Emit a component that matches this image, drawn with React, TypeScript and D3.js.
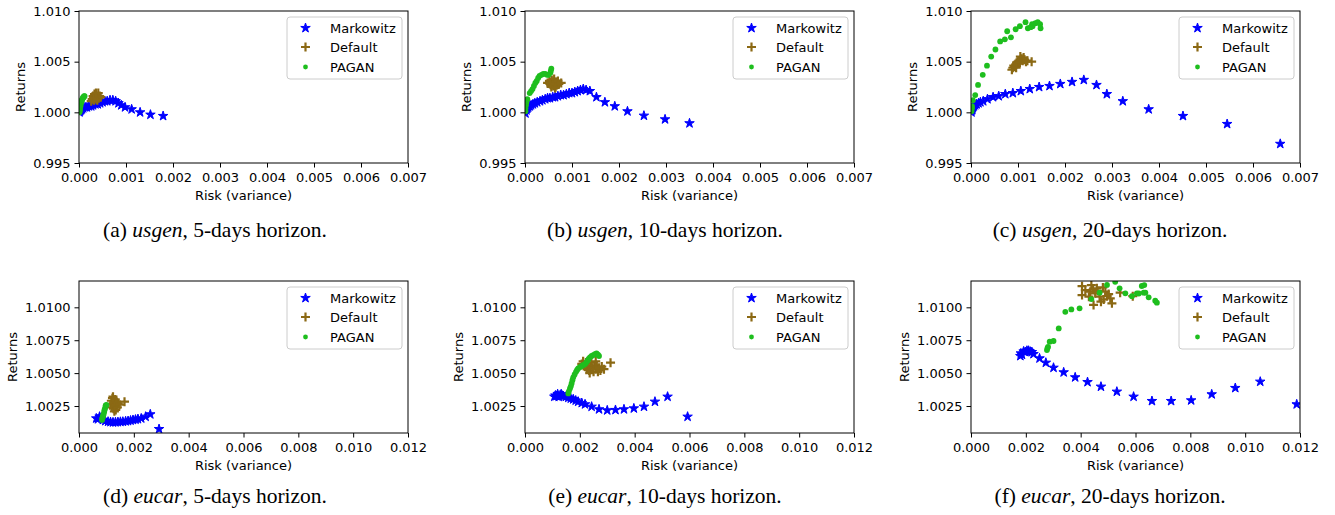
import React, { useEffect, useRef } from 'react';
import * as d3 from 'd3';

type Pt = [number, number];

// ---- usgen, 5 days
const usgen5Markowitz: Pt[] = [
  [0.00001, 1.0000], [0.00002, 1.0001], [0.00004, 1.0002], [0.00006, 1.0003], [0.00009, 1.0004],
  [0.00013, 1.0005], [0.00017, 1.0005], [0.00021, 1.0006], [0.00026, 1.0006], [0.0003, 1.0007],
  [0.00035, 1.0008], [0.0004, 1.0008], [0.00045, 1.0009], [0.0005, 1.0010], [0.00055, 1.0011],
  [0.0006, 1.0011], [0.00066, 1.0012], [0.00072, 1.0012], [0.00078, 1.0011], [0.00084, 1.0009],
  [0.0009, 1.0007], [0.00098, 1.0005], [0.00112, 1.0003], [0.0013, 1.0000], [0.00152, 0.99977],
  [0.00179, 0.99964],
];
const usgen5Default: Pt[] = [
  [0.00028, 1.0013], [0.0003, 1.0016], [0.00032, 1.0012], [0.00033, 1.0018], [0.00034, 1.0015],
  [0.00035, 1.0014], [0.00036, 1.0017], [0.00037, 1.0013], [0.00038, 1.0016], [0.0004, 1.0015],
  [0.00041, 1.0019], [0.00042, 1.0014], [0.00044, 1.0016], [0.00046, 1.0015], [0.00031, 1.0014],
  [0.00039, 1.0012], [0.00036, 1.0019], [0.00026, 1.0011],
];
const usgen5Pagan: Pt[] = [
  [0.00001, 1.0000], [0.00002, 1.0002], [0.00002, 1.0004], [0.00003, 1.0006], [0.00003, 1.0007],
  [0.00004, 1.0009], [0.00005, 1.0010], [0.00005, 1.0011], [0.00006, 1.0012], [0.00007, 1.0013],
  [0.00008, 1.0014], [0.00009, 1.0015], [0.0001, 1.0015], [0.00011, 1.0016], [0.00012, 1.0016],
];

// ---- usgen, 10 days
const usgen10Markowitz: Pt[] = [
  [0.00001, 0.9999], [0.00003, 1.0002], [0.00005, 1.0004], [0.00007, 1.0005], [0.0001, 1.0006],
  [0.00013, 1.0007], [0.00017, 1.0008], [0.00021, 1.0009], [0.00026, 1.0010], [0.00032, 1.0011],
  [0.00037, 1.0012], [0.00043, 1.0013], [0.00048, 1.0014], [0.00053, 1.0014], [0.00059, 1.0015],
  [0.00064, 1.0015], [0.0007, 1.0016], [0.00076, 1.0017], [0.00082, 1.0017], [0.00088, 1.0018],
  [0.00094, 1.0019], [0.001, 1.0019], [0.00106, 1.0020], [0.00112, 1.0021], [0.00118, 1.0022],
  [0.00124, 1.0023], [0.0013, 1.0022], [0.00138, 1.0021], [0.00152, 1.0015], [0.0017, 1.0010],
  [0.00191, 1.0006], [0.00218, 1.0001], [0.00253, 0.99967], [0.00298, 0.99931], [0.0035, 0.99892],
];
const usgen10Default: Pt[] = [
  [0.00048, 1.0029], [0.00052, 1.0031], [0.00055, 1.0027], [0.00057, 1.0032], [0.00058, 1.0029],
  [0.0006, 1.0026], [0.0006, 1.0030], [0.00062, 1.0033], [0.00063, 1.0028], [0.00065, 1.0025],
  [0.00066, 1.0030], [0.00068, 1.0027], [0.0007, 1.0031], [0.00072, 1.0028], [0.00056, 1.0025],
  [0.00064, 1.0024], [0.00077, 1.0029], [0.00053, 1.0028],
];
const usgen10Pagan: Pt[] = [
  [0.00001, 1.0001], [0.00001, 1.0004], [0.00002, 1.0007], [0.00003, 1.0010], [0.00005, 1.0013],
  [0.0001, 1.0019], [0.00013, 1.0021], [0.00016, 1.0023], [0.00019, 1.0026], [0.00022, 1.0029],
  [0.00025, 1.0031], [0.00028, 1.0034], [0.00031, 1.0036], [0.00035, 1.0037], [0.00039, 1.0038],
  [0.00043, 1.0038], [0.00047, 1.0037], [0.0005, 1.0037], [0.00054, 1.0039], [0.00055, 1.0041],
  [0.00056, 1.0043],
];

// ---- usgen, 20 days
const usgen20Markowitz: Pt[] = [
  [0.00001, 1.0000], [0.00002, 1.0002], [0.00003, 1.0003], [0.00004, 1.0005], [0.00006, 1.0006],
  [0.00009, 1.0007], [0.00012, 1.0008], [0.00016, 1.0009], [0.0002, 1.0010], [0.00026, 1.0011],
  [0.00035, 1.0013], [0.00047, 1.0015], [0.00059, 1.0016], [0.00073, 1.0018], [0.00089, 1.0019],
  [0.00106, 1.0021], [0.00125, 1.0023], [0.00145, 1.0025], [0.00167, 1.0026], [0.0019, 1.0028],
  [0.00215, 1.0030], [0.0024, 1.0032], [0.00267, 1.0027], [0.00289, 1.0018], [0.00323, 1.0011],
  [0.00378, 1.0003], [0.00451, 0.99964], [0.00545, 0.99885], [0.00658, 0.99689],
];
const usgen20Default: Pt[] = [
  [0.00087, 1.0042], [0.00089, 1.0044], [0.00091, 1.0046], [0.00093, 1.0045], [0.00095, 1.0047],
  [0.00097, 1.0049], [0.00099, 1.0048], [0.001, 1.0050], [0.00102, 1.0051], [0.00104, 1.0049],
  [0.00106, 1.0052], [0.00108, 1.0053], [0.0011, 1.0051], [0.00112, 1.0054], [0.00114, 1.0052],
  [0.00117, 1.0050], [0.0012, 1.0051], [0.00129, 1.0050], [0.00096, 1.0044], [0.00105, 1.0055],
];
const usgen20Pagan: Pt[] = [
  [0.00001, 1.0001], [0.00002, 1.0004], [0.00002, 1.0006], [0.00004, 1.0012], [0.00009, 1.0017],
  [0.00015, 1.0027], [0.00025, 1.0037], [0.00034, 1.0046], [0.00043, 1.0055], [0.00052, 1.0062],
  [0.00062, 1.0070], [0.00072, 1.0072], [0.00077, 1.0080], [0.00085, 1.0074], [0.00095, 1.0082],
  [0.00104, 1.0085], [0.00116, 1.0089], [0.00121, 1.0083], [0.0013, 1.0087], [0.00131, 1.0085],
  [0.00137, 1.0088], [0.00142, 1.0089], [0.00147, 1.0087], [0.00148, 1.0083], [0.00127, 1.0084],
];

// ---- eucar, 5 days
const eucar5Markowitz: Pt[] = [
  [0.00063, 1.00156], [0.00069, 1.0015], [0.00075, 1.00169], [0.00081, 1.0016], [0.00087, 1.00144],
  [0.00096, 1.00136], [0.00106, 1.00131], [0.00115, 1.00128], [0.00124, 1.00126], [0.00133, 1.00127],
  [0.00142, 1.00128], [0.00151, 1.0013], [0.0016, 1.00131], [0.0017, 1.00134], [0.00179, 1.00136],
  [0.00188, 1.0014], [0.00197, 1.00144], [0.00206, 1.00147], [0.00215, 1.00151], [0.00227, 1.00156],
  [0.00243, 1.00169], [0.0026, 1.00187], [0.00292, 1.00075],
];
const eucar5Default: Pt[] = [
  [0.00115, 1.0026], [0.00118, 1.0029], [0.0012, 1.0024], [0.00122, 1.0031], [0.00124, 1.0027],
  [0.00126, 1.0023], [0.00128, 1.0028], [0.0013, 1.0025], [0.00132, 1.003], [0.00134, 1.0022],
  [0.00136, 1.0026], [0.00138, 1.0028], [0.0014, 1.0024], [0.00143, 1.0027], [0.00148, 1.0026],
  [0.00166, 1.00283], [0.00124, 1.00321], [0.00129, 1.0021],
];
const eucar5Pagan: Pt[] = [
  [0.00084, 1.00144], [0.00085, 1.00156], [0.00086, 1.0016], [0.00087, 1.00169], [0.00088, 1.0018],
  [0.0009, 1.00189], [0.00092, 1.00207], [0.00093, 1.0022], [0.00095, 1.00232], [0.00097, 1.0025],
  [0.00098, 1.00255], [0.001, 1.00258],
];

// ---- eucar, 10 days
const eucar10Markowitz: Pt[] = [
  [0.00107, 1.00321], [0.00111, 1.0033], [0.00115, 1.00326], [0.00119, 1.0034], [0.00123, 1.0032],
  [0.00128, 1.00331], [0.00132, 1.0034], [0.00136, 1.00328], [0.0014, 1.00326], [0.00149, 1.0032],
  [0.00158, 1.00313], [0.00167, 1.00307], [0.00176, 1.00301], [0.00185, 1.00292], [0.00194, 1.00283],
  [0.00207, 1.00273], [0.00219, 1.00263], [0.00243, 1.00245], [0.0027, 1.00225], [0.003, 1.00217],
  [0.0033, 1.0022], [0.00361, 1.00225], [0.00397, 1.00232], [0.00434, 1.00245], [0.00474, 1.00283],
  [0.0052, 1.00321], [0.00593, 1.00169],
];
const eucar10Default: Pt[] = [
  [0.00207, 1.0057], [0.00212, 1.0059], [0.00218, 1.0055], [0.00222, 1.0058], [0.00226, 1.0053],
  [0.0023, 1.0056], [0.00234, 1.0052], [0.00238, 1.0055], [0.00242, 1.0058], [0.00246, 1.0054],
  [0.0025, 1.0051], [0.00254, 1.0056], [0.00258, 1.0053], [0.00262, 1.0055], [0.00266, 1.0051],
  [0.0027, 1.0054], [0.00275, 1.0052], [0.0028, 1.0055], [0.00288, 1.0053], [0.00312, 1.00579],
  [0.00236, 1.005], [0.00258, 1.0059],
];
const eucar10Pagan: Pt[] = [
  [0.00158, 1.00346], [0.0016, 1.00362], [0.00164, 1.00384], [0.00167, 1.004], [0.0017, 1.00422],
  [0.00173, 1.00446], [0.00176, 1.00468], [0.00181, 1.0049], [0.00186, 1.0051], [0.0019, 1.00524],
  [0.00194, 1.00536], [0.002, 1.00545], [0.00207, 1.00554], [0.00213, 1.00562], [0.00219, 1.00569],
  [0.00224, 1.00582], [0.00228, 1.00594], [0.00232, 1.00608], [0.00237, 1.0062], [0.00243, 1.0063],
  [0.00249, 1.00637], [0.00255, 1.00645], [0.00261, 1.0065], [0.00266, 1.0064], [0.0027, 1.0063],
];

// ---- eucar, 20 days
const eucar20Markowitz: Pt[] = [
  [0.0018, 1.0063], [0.00182, 1.0065], [0.00186, 1.0064], [0.00192, 1.00665], [0.00198, 1.0066],
  [0.00204, 1.0067], [0.0021, 1.0067], [0.00216, 1.00663], [0.00222, 1.0066], [0.00228, 1.00645],
  [0.0025, 1.00612], [0.00273, 1.00579], [0.00301, 1.00541], [0.00338, 1.00506], [0.0038, 1.00468],
  [0.00425, 1.00432], [0.00474, 1.00397], [0.00532, 1.00359], [0.00593, 1.00321], [0.0066, 1.00288],
  [0.0073, 1.00288], [0.00803, 1.00293], [0.00878, 1.00339], [0.00964, 1.00387], [0.01055, 1.00435],
  [0.01188, 1.00263],
];
const eucar20Default: Pt[] = [
  [0.00405, 1.01161], [0.00439, 1.01169], [0.00459, 1.01144], [0.00481, 1.01151], [0.00435, 1.01119],
  [0.00453, 1.01106], [0.00469, 1.01081], [0.00447, 1.01018], [0.00405, 1.01093], [0.0043, 1.01081],
  [0.00484, 1.0106], [0.00496, 1.01086], [0.00508, 1.01068], [0.00514, 1.0103], [0.0049, 1.01119],
  [0.00544, 1.01111], [0.0059, 1.01085], [0.00474, 1.01043], [0.00417, 1.01131], [0.00502, 1.01101],
  [0.00445, 1.01135], [0.00462, 1.01125],
];
const eucar20Pagan: Pt[] = [
  [0.00277, 1.00675], [0.00279, 1.0069], [0.00281, 1.007], [0.00287, 1.00739], [0.00301, 1.00744],
  [0.0032, 1.0084], [0.00344, 1.00966], [0.00366, 1.00984], [0.00396, 1.00992], [0.00439, 1.01063],
  [0.00469, 1.01111], [0.00496, 1.0117], [0.00526, 1.01194], [0.00542, 1.01144], [0.00563, 1.01106],
  [0.00587, 1.01085], [0.00605, 1.01106], [0.00623, 1.01162], [0.00632, 1.01169], [0.0063, 1.01111],
  [0.00636, 1.01111], [0.00648, 1.01076], [0.00672, 1.0105], [0.00678, 1.01035], [0.00612, 1.01105],
];

const seriesNames = ['Markowitz', 'Default', 'PAGAN'];
const seriesColors = ['#0000ff', '#8b6914', '#1ebe1e'];

const topXTicks = [0, 0.001, 0.002, 0.003, 0.004, 0.005, 0.006, 0.007];
const topYTicks = [0.995, 1.0, 1.005, 1.01];
const bottomXTicks = [0, 0.002, 0.004, 0.006, 0.008, 0.01, 0.012];
const bottomYTicks = [1.0025, 1.005, 1.0075, 1.01];

const captionLetters = ['a', 'b', 'c', 'd', 'e', 'f'];
const captionDatasets = ['usgen', 'usgen', 'usgen', 'eucar', 'eucar', 'eucar'];
const captionHorizons = ['5', '10', '20', '5', '10', '20'];

const panelData: Pt[][][] = [
  [usgen5Markowitz, usgen5Default, usgen5Pagan],
  [usgen10Markowitz, usgen10Default, usgen10Pagan],
  [usgen20Markowitz, usgen20Default, usgen20Pagan],
  [eucar5Markowitz, eucar5Default, eucar5Pagan],
  [eucar10Markowitz, eucar10Default, eucar10Pagan],
  [eucar20Markowitz, eucar20Default, eucar20Pagan],
];

const W = 1335;
const H = 515;
const lefts = [79, 525, 971];
const tops = [11, 281];
const captionX = [215, 665, 1110];
const captionY = [237, 503];
const pw = 329;
const ph = 152;
const font = 'DejaVu Sans, sans-serif';

const starPath = d3.symbol().type(d3.symbolStar).size(28)();
const plusPath = 'M-4.5,0H4.5M0,-4.5V4.5';

function drawMarker(sel: d3.Selection<any, any, any, any>, k: number, legend = false) {
  if (k === 0) {
    sel.append('path').attr('d', starPath).attr('fill', seriesColors[0])
      .attr('stroke', seriesColors[0]).attr('stroke-width', 1).attr('stroke-linejoin', 'round');
  } else if (k === 1) {
    sel.append('path').attr('d', plusPath).attr('stroke', seriesColors[1])
      .attr('stroke-width', 2.2).attr('fill', 'none');
  } else {
    sel.append('circle').attr('r', legend ? 2.4 : 2.9).attr('fill', seriesColors[2]);
  }
}

export default function App() {
  const ref = useRef<SVGSVGElement>(null);

  useEffect(() => {
    const svg = d3.select(ref.current);
    svg.selectAll('*').remove();

    panelData.forEach((series, i) => {
      const col = i % 3;
      const row = Math.floor(i / 3);
      const g = svg.append('g').attr('transform', `translate(${lefts[col]},${tops[row]})`);

      const x = d3.scaleLinear()
        .domain(row === 0 ? [0, 0.007] : [0, 0.012])
        .range([0, pw]);
      const y = d3.scaleLinear()
        .domain(row === 0 ? [0.995, 1.01] : [1.00045, 1.012])
        .range([ph, 0]);

      g.append('clipPath').attr('id', `clip-${i}`)
        .append('rect').attr('width', pw).attr('height', ph);

      const marks = g.append('g').attr('clip-path', `url(#clip-${i})`);
      series.forEach((pts, k) => {
        marks.append('g').selectAll('g')
          .data(pts)
          .join('g')
          .attr('transform', d => `translate(${x(d[0])},${y(d[1])})`)
          .each(function () { drawMarker(d3.select(this), k); });
      });

      const xAxis = d3.axisBottom(x)
        .tickValues(row === 0 ? topXTicks : bottomXTicks)
        .tickFormat(d3.format('.3f'))
        .tickSize(4.5).tickSizeOuter(0).tickPadding(5.5);
      const yAxis = d3.axisLeft(y)
        .tickValues(row === 0 ? topYTicks : bottomYTicks)
        .tickFormat(d3.format(row === 0 ? '.3f' : '.4f'))
        .tickSize(4.5).tickSizeOuter(0).tickPadding(4);

      const gx = g.append('g').attr('transform', `translate(0,${ph})`).call(xAxis);
      const gy = g.append('g').call(yAxis);
      [gx, gy].forEach(a => {
        a.select('.domain').remove();
        a.selectAll('text').style('font-family', font).style('font-size', '13px').attr('fill', '#000');
        a.selectAll('line').attr('stroke', '#000').attr('stroke-width', 1);
      });

      g.append('rect').attr('width', pw).attr('height', ph)
        .attr('fill', 'none').attr('stroke', '#000').attr('stroke-width', 1);

      g.append('text')
        .attr('x', pw / 2).attr('y', ph + 36.5)
        .attr('text-anchor', 'middle')
        .style('font-family', font).style('font-size', '13px')
        .text('Risk (variance)');

      g.append('text')
        .attr('transform', `translate(${row === 0 ? -59 : -67},${ph / 2}) rotate(-90)`)
        .attr('dy', '0.35em')
        .attr('text-anchor', 'middle')
        .style('font-family', font).style('font-size', '13px')
        .text('Returns');

      // legend
      const lg = g.append('g').attr('transform', `translate(${pw - 121},6)`);
      lg.append('rect').attr('width', 115).attr('height', 62).attr('rx', 3)
        .attr('fill', '#fff').attr('fill-opacity', 0.8)
        .attr('stroke', '#cccccc').attr('stroke-width', 1);
      seriesNames.forEach((name, k) => {
        const ry = [11, 30, 50][k];
        const m = lg.append('g').attr('transform', `translate(18.5,${ry})`);
        drawMarker(m, k, true);
        lg.append('text').attr('x', 43).attr('y', ry).attr('dy', '0.35em')
          .style('font-family', font).style('font-size', '13px')
          .text(name);
      });

      // caption
      const cap = svg.append('text')
        .attr('x', captionX[col]).attr('y', captionY[row])
        .attr('text-anchor', 'middle')
        .style('font-family', 'Liberation Serif, Times New Roman, serif')
        .style('font-size', '21.5px');
      cap.append('tspan').text(`(${captionLetters[i]}) `);
      cap.append('tspan').style('font-style', 'italic').text(captionDatasets[i]);
      cap.append('tspan').text(`, ${captionHorizons[i]}-days horizon.`);
    });
  }, []);

  return (
    <svg
      ref={ref}
      width={W}
      height={H}
      style={{ position: 'absolute', left: 0, top: 0, background: '#fff' }}
    />
  );
}
